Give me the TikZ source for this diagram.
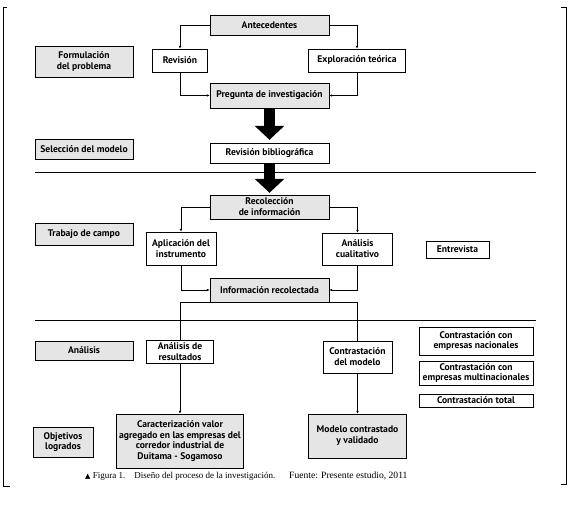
\documentclass[tikz,border=0pt]{standalone}
\usepackage{fontspec}
\setmainfont{PT Sans}
\newfontfamily\capfont{Liberation Serif}
\newfontfamily\symfont{DejaVu Sans}
\usetikzlibrary{arrows.meta}
\tikzset{
	graybox/.style={draw, rectangle, inner sep=1pt, align=center, fill=black!10, font=\fontsize{9.6}{10.8}\selectfont\bfseries},
	whitebox/.style={draw, rectangle, inner sep=1pt, align=center, fill=white, font=\fontsize{9.6}{10.8}\selectfont\bfseries},
	link/.style={semithick, -{Latex[length=3pt,width=2.6pt]}},
	plain/.style={semithick},
	fat/.style={line width=11pt, -{Triangle[width=29pt,length=14pt]}},
}
\begin{document}
\begin{tikzpicture}[x=1pt, y=-1pt]
	\useasboundingbox (0,0) rectangle (571,506);
	% frame and separators
	\draw[semithick] (7,7) -- (3,7) -- (3,486) -- (10,486);
	\draw[semithick] (561,7) -- (566,7) -- (566,484) -- (561,484);
	\draw[semithick] (35,172) -- (536,172);
	\draw[semithick] (35,320) -- (536,320);
	
	% left column
	\node (form) [graybox, minimum width=98pt, minimum height=31pt] at (84,61.5) {Formulación\\del problema};
	\node (sel) [graybox, minimum width=98pt, minimum height=20pt] at (84,149) {Selección del modelo};
	\node (trab) [graybox, minimum width=98pt, minimum height=22pt] at (84,234) {Trabajo de campo};
	\node (anal) [graybox, minimum width=98pt, minimum height=19pt] at (84,350.5) {Análisis};
	\node (obj) [graybox, minimum width=60pt, minimum height=30pt] at (63,442) {Objetivos\\logrados};
	
	% process
	\node (ante) [graybox, minimum width=119pt, minimum height=20pt] at (269.5,25) {Antecedentes};
	\node (rev) [whitebox, minimum width=55pt, minimum height=23pt] at (180,60.5) {Revisión};
	\node (expl) [whitebox, minimum width=97pt, minimum height=23pt] at (357,60.5) {Exploración teórica};
	\node (preg) [graybox, minimum width=119pt, minimum height=25pt] at (269.5,95.5) {Pregunta de investigación};
	\node (revb) [whitebox, minimum width=119pt, minimum height=20pt] at (269.5,153) {Revisión bibliográfica};
	\node (reco) [graybox, minimum width=119pt, minimum height=24pt] at (269.5,207) {Recolección\\de información};
	\node (apli) [whitebox, minimum width=70pt, minimum height=33pt] at (181,248.5) {Aplicación del\\instrumento};
	\node (cual) [whitebox, minimum width=70pt, minimum height=32pt] at (357.5,249) {Análisis\\cualitativo};
	\node (entr) [whitebox, minimum width=63pt, minimum height=17pt] at (457.5,249.5) {Entrevista};
	\node (info) [graybox, minimum width=119pt, minimum height=24pt] at (269.5,290) {Información recolectada};
	\node (ares) [whitebox, minimum width=67pt, minimum height=23pt] at (180,352) {Análisis de\\resultados};
	\node (cmod) [whitebox, minimum width=69pt, minimum height=32pt] at (357.5,357) {Contrastación\\del modelo};
	\node (cara) [graybox, minimum width=127pt, minimum height=54pt] at (180,441) {Caracterización valor\\agregado en las empresas del\\corredor industrial de\\Duitama - Sogamoso};
	\node (mcv) [graybox, minimum width=98pt, minimum height=44pt] at (357.5,436) {Modelo contrastado\\y validado};
	\node (cnac) [whitebox, minimum width=114pt, minimum height=28pt] at (476,341) {Contrastación con\\empresas nacionales};
	\node (cmul) [whitebox, minimum width=114pt, minimum height=24pt] at (476,373) {Contrastación con\\empresas multinacionales};
	\node (ctot) [whitebox, minimum width=114pt, minimum height=13pt] at (476,400.5) {Contrastación total};
	
	\begin{scope}[link]
		\draw (ante.west) -| (rev.north);
		\draw (ante.east) -| (expl.north);
		\draw (rev.south) |- (preg.west);
		\draw (expl.south) |- (preg.east);
		\draw (reco.west) -| (apli.north);
		\draw (reco.east) -| (cual.north);
		\draw (apli.south) |- (info.west);
		\draw (cual.south) |- (info.east);
		\draw (ares) -- (cara);
		\draw (cmod) -- (mcv);
	\end{scope}
	\draw[plain] (ares.north) |- (info.south) -| (cmod.north);
	
	\draw[fat] (preg.south) -- ([yshift=3pt]revb.north);
	\draw[fat] (revb.south) -- ([yshift=2pt]reco.north);
	
	% caption
	\node (cap) [anchor=base west, inner sep=0pt, font=\capfont\fontsize{9}{11}\selectfont] at (85,478) {{\symfont\fontsize{7}{8}\selectfont▲} Figura 1.\quad Diseño del proceso de la investigación.};
	\node (src) [anchor=base west, inner sep=0pt, font=\capfont\fontsize{9.6}{11}\selectfont] at (289,478) {Fuente: Presente estudio, 2011};
\end{tikzpicture}
\end{document}
